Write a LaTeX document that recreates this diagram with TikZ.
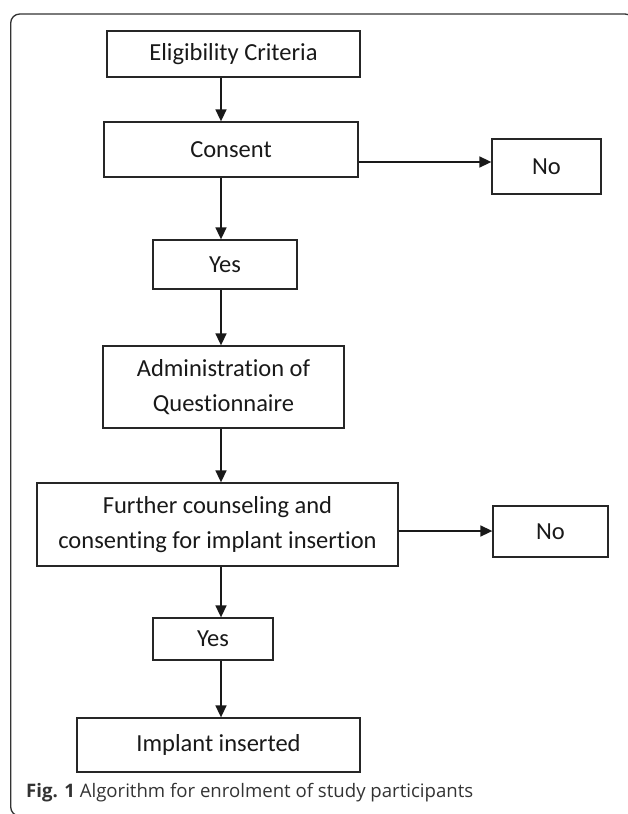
\documentclass[tikz,border=0pt]{standalone}
\usepackage{fontspec}
\setmainfont{Carlito}[Ligatures=NoCommon]
\newfontfamily\captionfont{Open Sans}
\usetikzlibrary{arrows.meta}

\begin{document}
\begin{tikzpicture}[
  x=1pt, y=-1pt,
  box/.style={draw=black!85, line width=1.3pt, inner sep=0pt, align=center,
    font=\fontsize{24.5}{35}\selectfont, text=black!90},
  flow/.style={draw=black!90, line width=1.6pt, -{Triangle[length=12pt,width=11pt]}},
]
\useasboundingbox (0,0) rectangle (628,814);
\clip (0,0) rectangle (628,814);
\draw[black!80, line width=1.3pt, rounded corners=9pt] (10.7,14) rectangle (634,816);
\coordinate (spine) at (221,0);
\coordinate (consenty) at (0,162);
\coordinate (furthery) at (0,531);
\node[box, minimum width=253pt, minimum height=46pt] (elig) at (233.5,54) {Eligibility Criteria};
\node[box, minimum width=254pt, minimum height=55pt] (consent) at (231,149.5) {Consent};
\node[box, minimum width=109pt, minimum height=55pt] (no1) at (546.5,166.5) {No};
\node[box, minimum width=144pt, minimum height=49pt] (yes1) at (225,264.5) {Yes};
\node[box, minimum width=241pt, minimum height=82pt] (admin) at (223.5,387) {Administration of\\Questionnaire};
\node[box, minimum width=361pt, minimum height=83pt] (further) at (217.5,524.5) {Further counseling and\\consenting for implant insertion};
\node[box, minimum width=115pt, minimum height=51pt] (no2) at (550.5,531.5) {No};
\node[box, minimum width=120pt, minimum height=42pt] (yes2) at (213,639) {Yes};
\node[box, minimum width=283pt, minimum height=54pt] (implant) at (218.5,745) {Implant inserted};
\draw[flow] (elig.south -| spine) -- (consent.north -| spine);
\draw[flow] (consent.south -| spine) -- (yes1.north -| spine);
\draw[flow] (yes1.south -| spine) -- (admin.north -| spine);
\draw[flow] (admin.south -| spine) -- (further.north -| spine);
\draw[flow] (further.south -| spine) -- (yes2.north -| spine);
\draw[flow] (yes2.south -| spine) -- (implant.north -| spine);
\draw[flow] (consent.east |- consenty) -- (no1.west |- consenty);
\draw[flow] (further.east |- furthery) -- (no2.west |- furthery);
\node[anchor=base west, inner sep=0pt, font=\captionfont\fontsize{18.6}{22}\selectfont, text=black!80] (caption) at (26,797) {\textbf{Fig. 1} Algorithm for enrolment of study participants};
\end{tikzpicture}
\end{document}
